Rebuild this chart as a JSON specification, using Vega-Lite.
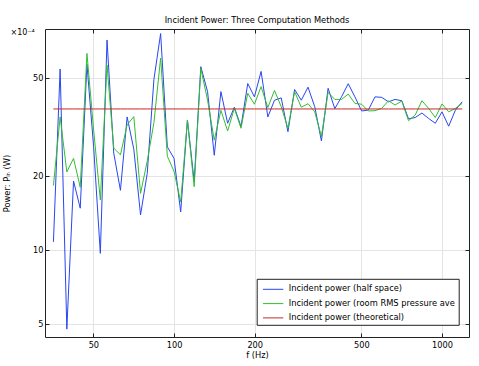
{
  "$schema": "https://vega.github.io/schema/vega-lite/v6.json",
  "width": 424,
  "height": 308,
  "autosize": {"type": "none"},
  "padding": {"left": 45, "top": 29, "right": 10, "bottom": 29},
  "title": {"text": "Incident Power: Three Computation Methods", "fontSize": 8.3, "fontWeight": "normal", "font": "DejaVu Sans", "anchor": "middle", "frame": "group", "offset": 4, "color": "black"},
  "config": {"font": "DejaVu Sans", "view": {"stroke": null}},
  "data": {"values": [
    {"f":35.48,"half":10.8,"room":18.3,"theo":37.5},
    {"f":37.58,"half":54.5,"room":34.8,"theo":37.5},
    {"f":39.81,"half":4.77,"room":20.8,"theo":37.5},
    {"f":42.17,"half":19.1,"room":23.6,"theo":37.5},
    {"f":44.67,"half":14.8,"room":18.0,"theo":37.5},
    {"f":47.32,"half":57.0,"room":63.1,"theo":37.5},
    {"f":50.12,"half":26.3,"room":30.8,"theo":37.5},
    {"f":53.09,"half":9.7,"room":16.0,"theo":37.5},
    {"f":56.23,"half":71.5,"room":56.6,"theo":37.5},
    {"f":59.57,"half":24.8,"room":26.0,"theo":37.5},
    {"f":63.10,"half":17.5,"room":24.4,"theo":37.5},
    {"f":66.83,"half":34.8,"room":32.3,"theo":37.5},
    {"f":70.79,"half":25.7,"room":34.9,"theo":37.5},
    {"f":74.99,"half":13.9,"room":17.0,"theo":37.5},
    {"f":79.43,"half":20.5,"room":23.0,"theo":37.5},
    {"f":84.14,"half":49.5,"room":33.0,"theo":37.5},
    {"f":89.13,"half":76.0,"room":60.4,"theo":37.5},
    {"f":94.41,"half":26.3,"room":24.1,"theo":37.5},
    {"f":100.0,"half":23.6,"room":20.9,"theo":37.5},
    {"f":105.9,"half":14.3,"room":15.7,"theo":37.5},
    {"f":112.2,"half":33.8,"room":33.8,"theo":37.5},
    {"f":118.9,"half":19.0,"room":18.1,"theo":37.5},
    {"f":125.9,"half":55.7,"room":54.8,"theo":37.5},
    {"f":133.4,"half":44.1,"room":40.7,"theo":37.5},
    {"f":141.3,"half":24.3,"room":28.0,"theo":37.5},
    {"f":149.6,"half":44.1,"room":37.0,"theo":37.5},
    {"f":158.5,"half":32.8,"room":30.5,"theo":37.5},
    {"f":167.9,"half":38.1,"room":37.7,"theo":37.5},
    {"f":177.8,"half":31.8,"room":31.3,"theo":37.5},
    {"f":188.4,"half":47.6,"room":43.4,"theo":37.5},
    {"f":199.5,"half":42.0,"room":39.2,"theo":37.5},
    {"f":211.3,"half":53.3,"room":46.2,"theo":37.5},
    {"f":223.9,"half":34.8,"room":38.0,"theo":37.5},
    {"f":237.1,"half":40.7,"room":44.6,"theo":37.5},
    {"f":251.2,"half":41.6,"room":38.3,"theo":37.5},
    {"f":266.1,"half":30.3,"room":31.3,"theo":37.5},
    {"f":281.8,"half":45.0,"room":44.1,"theo":37.5},
    {"f":298.5,"half":40.7,"room":38.1,"theo":37.5},
    {"f":316.2,"half":46.0,"room":39.4,"theo":37.5},
    {"f":335.0,"half":38.3,"room":36.5,"theo":37.5},
    {"f":354.8,"half":27.8,"room":29.0,"theo":37.5},
    {"f":375.8,"half":45.5,"room":43.8,"theo":37.5},
    {"f":398.1,"half":37.6,"room":41.0,"theo":37.5},
    {"f":421.7,"half":42.0,"room":41.0,"theo":37.5},
    {"f":446.7,"half":47.5,"room":43.1,"theo":37.5},
    {"f":473.2,"half":42.0,"room":39.5,"theo":37.5},
    {"f":501.2,"half":36.8,"room":39.2,"theo":37.5},
    {"f":530.9,"half":37.1,"room":36.8,"theo":37.5},
    {"f":562.3,"half":42.0,"room":36.9,"theo":37.5},
    {"f":595.7,"half":41.8,"room":37.7,"theo":37.5},
    {"f":631.0,"half":40.1,"room":40.5,"theo":37.5},
    {"f":668.3,"half":41.0,"room":38.9,"theo":37.5},
    {"f":708.0,"half":40.5,"room":40.4,"theo":37.5},
    {"f":749.9,"half":34.2,"room":33.6,"theo":37.5},
    {"f":794.3,"half":34.6,"room":35.4,"theo":37.5},
    {"f":841.4,"half":36.1,"room":40.5,"theo":37.5},
    {"f":891.3,"half":34.3,"room":37.7,"theo":37.5},
    {"f":944.1,"half":32.8,"room":34.6,"theo":37.5},
    {"f":1000,"half":36.5,"room":39.3,"theo":37.5},
    {"f":1059,"half":31.9,"room":36.5,"theo":37.5},
    {"f":1122,"half":37.1,"room":37.7,"theo":37.5},
    {"f":1189,"half":40.1,"room":39.5,"theo":37.5}
  ]},
  "transform": [{"fold": ["half", "room", "theo"], "as": ["series", "value"]}],
  "layer": [
    {
      "mark": {"type": "line", "clip": true},
      "encoding": {
        "x": {"field": "f", "type": "quantitative",
          "scale": {"type": "log", "domain": [33, 1261], "nice": false},
          "axis": {"values": [50, 100, 200, 500, 1000], "format": "d", "title": "f (Hz)", "titleFontSize": 8.3, "titleFontWeight": "normal", "titleColor": "black", "titlePadding": 1.5,
            "labelFontSize": 8.2, "labelColor": "black", "labelPadding": 8.5, "labelFlush": false, "labelOverlap": false,
            "tickSize": -4, "tickColor": "#222", "domainColor": "#222", "grid": true, "gridColor": "#e4e4e4"}},
        "y": {"field": "value", "type": "quantitative",
          "scale": {"type": "log", "domain": [4.43, 79.3], "nice": false},
          "axis": {"values": [5, 10, 20, 50], "format": "d", "title": "Power: Pᵢₙ (W)", "titleFontSize": 8.3, "titleFontWeight": "normal", "titleColor": "black", "titlePadding": 21,
            "labelFontSize": 8.2, "labelColor": "black", "labelPadding": 6, "labelFlush": false, "labelOverlap": false,
            "tickSize": -4, "tickColor": "#222", "domainColor": "#222", "grid": true, "gridColor": "#e4e4e4"}},
        "color": {"field": "series", "type": "nominal",
          "scale": {"domain": ["half", "room", "theo"], "range": ["#2846f0", "#32be32", "#c82828"]},
          "legend": {"orient": "none", "legendX": 211.7, "legendY": 249.8, "title": null, "padding": 3,
            "strokeColor": "#222", "fillColor": "white", "labelFontSize": 8.3, "labelColor": "black", "labelLimit": 300,
            "symbolType": "M-0.6,0H2.3", "symbolSize": 196, "symbolStrokeWidth": 1, "labelOffset": 14, "rowPadding": 3.3,
            "labelExpr": "datum.label == 'half' ? 'Incident power (half space)' : datum.label == 'room' ? 'Incident power (room RMS pressure ave' : 'Incident power (theoretical)'"}},
        "strokeWidth": {"field": "series", "type": "nominal", "scale": {"domain": ["half", "room", "theo"], "range": [1, 1, 1.6]}, "legend": null}
      }
    },
    {
      "mark": {"type": "line", "opacity": 0},
      "encoding": {
        "x": {"field": "f", "type": "quantitative",
          "axis": {"orient": "top", "values": [50, 100, 200, 500, 1000], "labels": false, "title": null, "grid": false, "tickSize": -4, "tickColor": "#222", "domainColor": "#222"}},
        "y": {"field": "value", "type": "quantitative",
          "axis": {"orient": "right", "values": [5, 10, 20, 50], "labels": false, "grid": false, "tickSize": -4, "tickColor": "#222", "domainColor": "#222",
            "title": "×10⁻⁴", "titleAngle": 0, "titleX": -459, "titleY": 3, "titleAlign": "left", "titleBaseline": "middle", "titleFontSize": 8, "titleFontWeight": "normal", "titleColor": "black"}},
        "detail": {"field": "series"}
      }
    }
  ],
  "resolve": {"axis": {"x": "independent", "y": "independent"}}
}
